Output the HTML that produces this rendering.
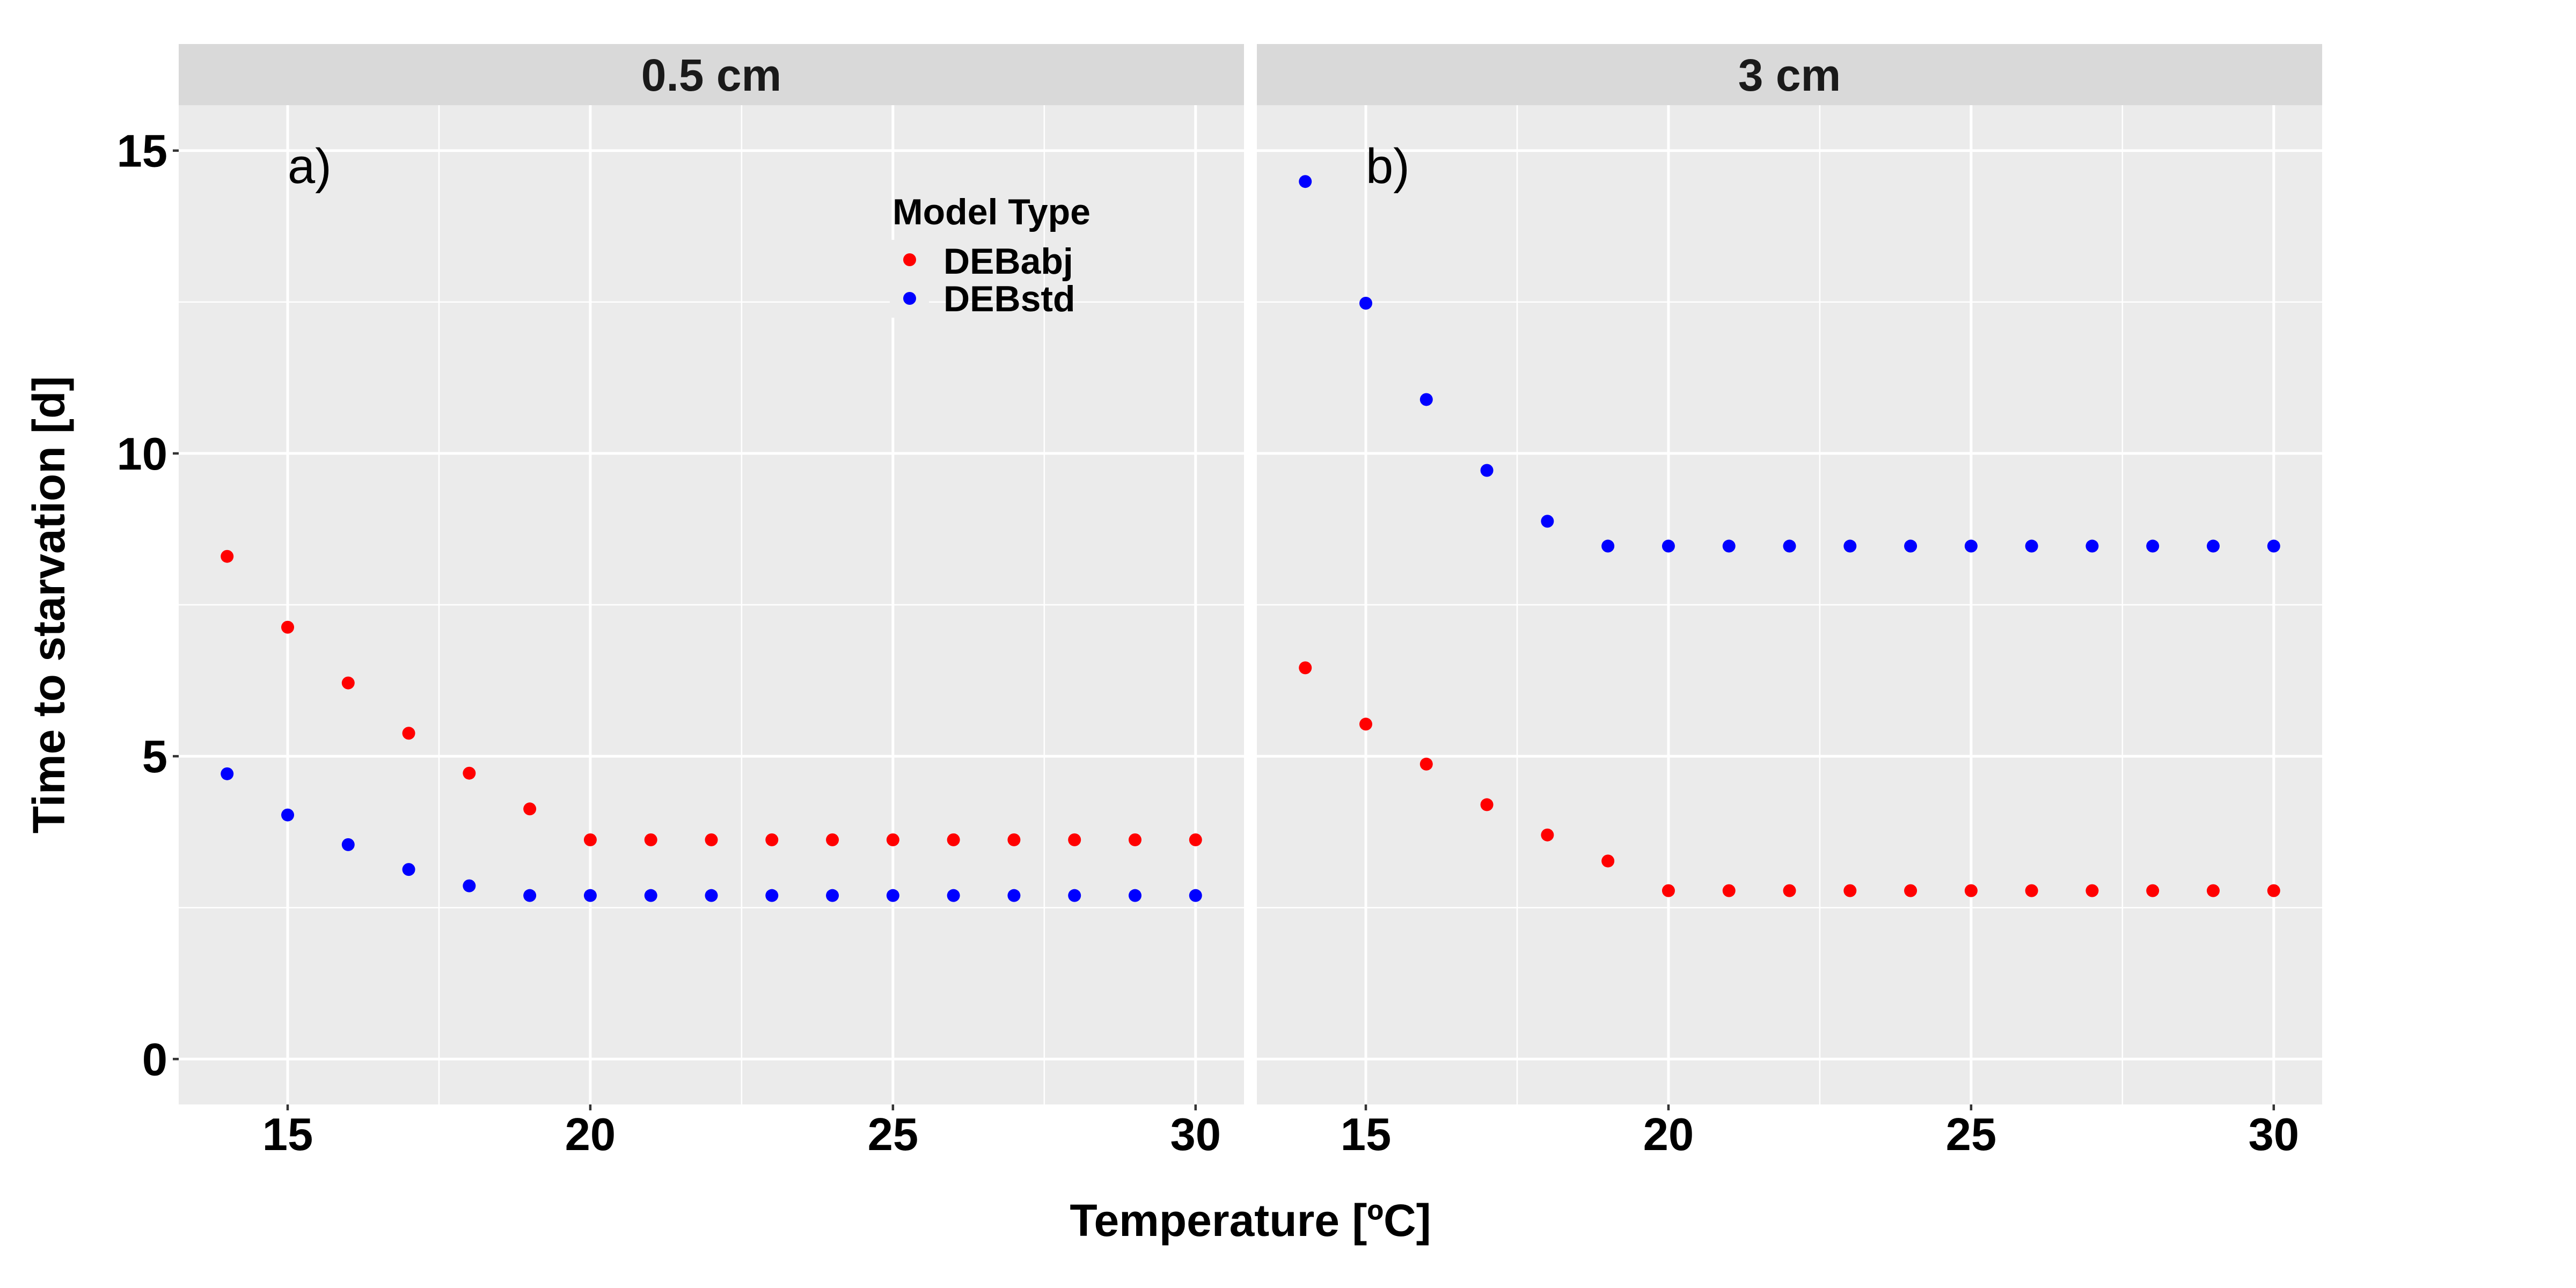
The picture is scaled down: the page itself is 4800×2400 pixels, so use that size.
<!DOCTYPE html>
<html><head><meta charset="utf-8"><style>
html,body{margin:0;padding:0;background:#fff;}
svg{display:block;font-family:"Liberation Sans",Arial,sans-serif;}
</style></head><body>
<svg id="chart" width="4800" height="2400" viewBox="0 0 4800 2400" xmlns="http://www.w3.org/2000/svg">
<rect width="4800" height="2400" fill="#fff"/>
<g id="root"></g>
</svg>
<script>
const temps = [14,15,16,17,18,19,20,21,22,23,24,25,26,27,28,29,30];
const panelA_abj = [8.30,7.13,6.21,5.38,4.72,4.13,3.62,3.62,3.62,3.62,3.62,3.62,3.62,3.62,3.62,3.62,3.62];
const panelA_std = [4.71,4.03,3.54,3.13,2.86,2.70,2.70,2.70,2.70,2.70,2.70,2.70,2.70,2.70,2.70,2.70,2.70];
const panelB_abj = [6.46,5.53,4.87,4.20,3.70,3.27,2.78,2.78,2.78,2.78,2.78,2.78,2.78,2.78,2.78,2.78,2.78];
const panelB_std = [14.49,12.48,10.89,9.72,8.88,8.47,8.47,8.47,8.47,8.47,8.47,8.47,8.47,8.47,8.47,8.47,8.47];
const xTicks = [15,20,25,30];
const xMinor = [17.5,22.5,27.5];
const yTicks = [0,5,10,15];
const yMinor = [2.5,7.5,12.5];
const panelTitles = ["0.5 cm","3 cm"];
const panelTags = ["a)","b)"];

const NS="http://www.w3.org/2000/svg";
const root=document.getElementById('root');
function mk(tag,attrs,parent){const e=document.createElementNS(NS,tag);for(const k in attrs)e.setAttribute(k,attrs[k]);(parent||root).appendChild(e);return e;}

const PW=1985, pTop=196, pBottom=2058, stripTop=82;
const panelLefts=[333,2342];
const xMin=13.2, xMax=30.8, yMin=-0.75, yMax=15.75;
function yScale(v){return pBottom-(v-yMin)/(yMax-yMin)*(pBottom-pTop);}
function xScaleFor(left){return v=>left+(v-xMin)/(xMax-xMin)*PW;}

const data=[[panelA_abj,panelA_std],[panelB_abj,panelB_std]];

panelLefts.forEach((L,pi)=>{
  const xs=xScaleFor(L);
  const g=mk('g',{});
  
  
  const bg=mk('rect',{x:L,y:pTop,width:PW,height:pBottom-pTop,fill:'#ebebeb'},g);
  
  
  const strip=mk('rect',{x:L,y:stripTop,width:PW,height:pTop-stripTop,fill:'#d9d9d9'},g);
  
  
  const st=mk('text',{x:L+PW/2,y:169,'text-anchor':'middle','font-size':84,'font-weight':'bold',fill:'#1a1a1a'},g);
  st.textContent=panelTitles[pi];
  
  
  yMinor.forEach(v=>{const l=mk('line',{x1:L,x2:L+PW,y1:yScale(v),y2:yScale(v),stroke:'#fff','stroke-width':2.5},g);
    });
  xMinor.forEach(v=>{const l=mk('line',{x1:xs(v),x2:xs(v),y1:pTop,y2:pBottom,stroke:'#fff','stroke-width':2.5},g);
    });
  yTicks.forEach(v=>{const l=mk('line',{x1:L,x2:L+PW,y1:yScale(v),y2:yScale(v),stroke:'#fff','stroke-width':5},g);
    });
  xTicks.forEach(v=>{const l=mk('line',{x1:xs(v),x2:xs(v),y1:pTop,y2:pBottom,stroke:'#fff','stroke-width':5},g);
    
    const t=mk('line',{x1:xs(v),x2:xs(v),y1:pBottom,y2:pBottom+11,stroke:'#333','stroke-width':4.5},g);
    
    const tl=mk('text',{x:xs(v),y:2143,'text-anchor':'middle','font-size':85,'font-weight':'bold',fill:'#000'},g);
    tl.textContent=v;});
  const tag=mk('text',{x:xs(15),y:341,'font-size':92,fill:'#000'},g);
  tag.textContent=panelTags[pi];
  if(pi===0){
    const lg=mk('g',{},g);
    
    mk('rect',{x:1658,y:447,width:73,height:145,fill:'#ebebeb'},lg);
    const lt=mk('text',{x:1663,y:418,'font-size':68,'font-weight':'bold',fill:'#000'},lg);
    lt.textContent='Model Type';
    [['DEBabj','#ff0000',484,510],['DEBstd','#0000ff',556,580]].forEach(([n,c,cy,by])=>{
      const k=mk('circle',{cx:1695,cy:cy,r:12,fill:c},lg);
      
      const t=mk('text',{x:1758,y:by,'font-size':68,'font-weight':'bold',fill:'#000'},lg);
      t.textContent=n;
    });
  }
  [['DEBabj','#ff0000',data[pi][0]],['DEBstd','#0000ff',data[pi][1]]].forEach(([n,c,vals])=>{
    temps.forEach((t,i)=>{
      const p=mk('circle',{cx:xs(t),cy:yScale(vals[i]),r:12,fill:c},g);
      
      
    });
  });
});
yTicks.forEach(v=>{
  const t=mk('line',{x1:322,x2:333,y1:yScale(v),y2:yScale(v),stroke:'#333','stroke-width':4.5});
  
  const tl=mk('text',{x:312,y:yScale(v)+30,'text-anchor':'end','font-size':85,'font-weight':'bold',fill:'#000'});
  tl.textContent=v;
});
const xt=mk('text',{x:2330,y:2303,'text-anchor':'middle','font-size':84,'font-weight':'bold',fill:'#000'});
xt.textContent='Temperature [ºC]';


const yt=mk('text',{x:0,y:0,transform:'translate(120,1127) rotate(-90)','text-anchor':'middle','font-size':84,'font-weight':'bold',fill:'#000'});
yt.textContent='Time to starvation [d]';


</script>
</body></html>
